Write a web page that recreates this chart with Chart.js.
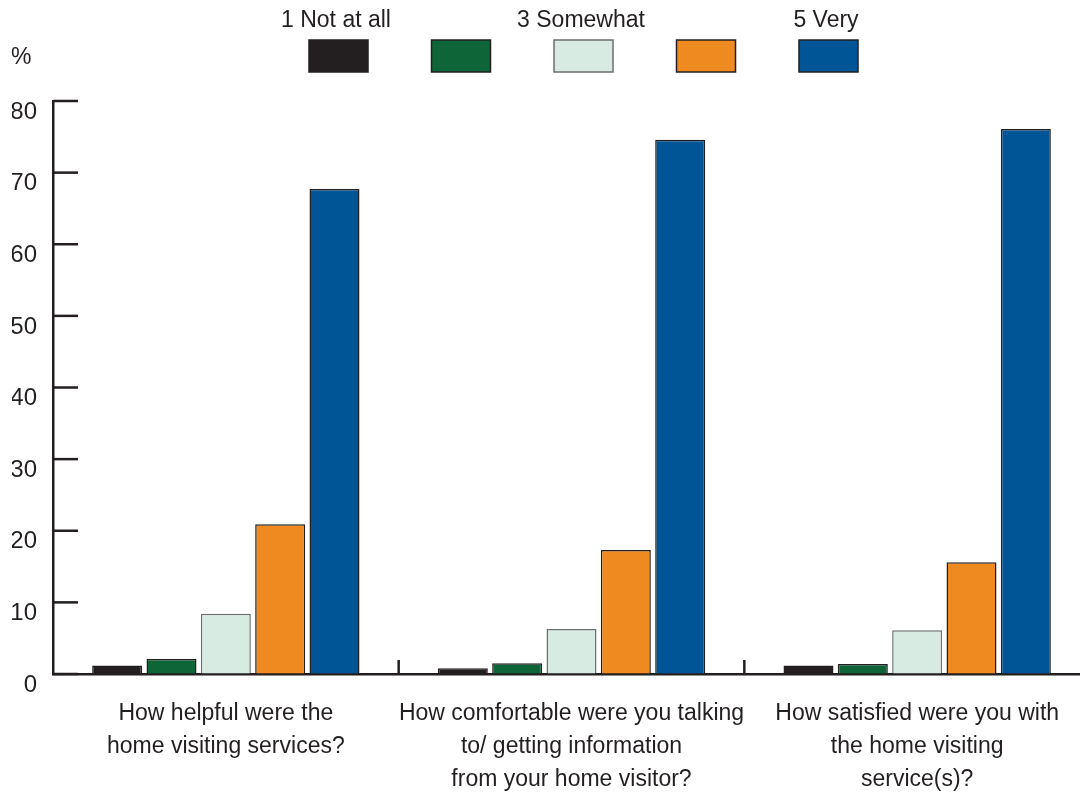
<!DOCTYPE html>
<html>
<head>
<meta charset="utf-8">
<script src="https://cdn.jsdelivr.net/npm/chart.js@4.4.1/dist/chart.umd.min.js"></script>
<style>
  html, body { margin: 0; padding: 0; background: #fff; overflow: hidden; }
  #wrap { width: 1090px; height: 795px; }
</style>
</head>
<body>
<div id="wrap"><canvas id="chart"></canvas></div>
<script>
const questions = [
    ['How helpful were the', 'home visiting services?'],
    ['How comfortable were you talking', 'to/ getting information', 'from your home visitor?'],
    ['How satisfied were you with', 'the home visiting', 'service(s)?']
];
const ratingLabels = ['1 Not at all', '2', '3 Somewhat', '4', '5 Very'];
const legendText = ['1 Not at all', '', '3 Somewhat', '', '5 Very'];
const rating1 = [1.2, 0.8, 1.2];
const rating2 = [2.1, 1.5, 1.4];
const rating3 = [8.4, 6.3, 6.1];
const rating4 = [20.9, 17.3, 15.6];
const rating5 = [67.7, 74.6, 76.1];
const yTicks = [0, 10, 20, 30, 40, 50, 60, 70, 80];

const fills = ['#231f20', '#0e6638', '#d7ebe2', '#ee8a1f', '#005596'];
const edges = ['#231f20', '#231f20', '#6d6e71', '#231f20', '#231f20'];
const ink = '#231f20';
const FONT = "'Liberation Sans Narrow', 'Arial Narrow', 'Liberation Sans', sans-serif";

const series = [rating1, rating2, rating3, rating4, rating5];

// legend with boxes in a row and text above every other one, plus the % unit
const topLegend = {
    id: 'topLegend',
    afterDraw(chart) {
        const ctx = chart.ctx;
        ctx.save();
        ctx.font = '23px ' + FONT;
        ctx.fillStyle = ink;
        ctx.textAlign = 'center';
        ctx.textBaseline = 'middle';
        chart.data.datasets.forEach((ds, i) => {
            const x = 309 + i * 122.5;
            ctx.fillStyle = ds.backgroundColor;
            ctx.fillRect(x, 40, 59, 32);
            ctx.strokeStyle = ds.borderColor;
            ctx.lineWidth = 1.5;
            ctx.strokeRect(x, 40, 59, 32);
            ctx.fillStyle = ink;
            if (legendText[i]) ctx.fillText(legendText[i], x + 27, 21);
        });
        ctx.textAlign = 'left';
        ctx.fillText('%', 11, 58);
        ctx.restore();
    }
};

// tick marks drawn inside the plot, and short separators between questions
const innerTicks = {
    id: 'innerTicks',
    afterDatasetsDraw(chart) {
        const {ctx, chartArea, scales} = chart;
        ctx.save();
        ctx.strokeStyle = ink;
        ctx.lineWidth = 2.5;
        scales.y.ticks.forEach((t, i) => {
            const y = scales.y.getPixelForTick(i);
            ctx.beginPath();
            ctx.moveTo(chartArea.left, y);
            ctx.lineTo(chartArea.left + 25, y);
            ctx.stroke();
        });
        const n = chart.data.labels.length;
        for (let i = 1; i < n; i++) {
            const x = (scales.x.getPixelForTick(i - 1) + scales.x.getPixelForTick(i)) / 2;
            ctx.beginPath();
            ctx.moveTo(x, chartArea.bottom);
            ctx.lineTo(x, chartArea.bottom - 14);
            ctx.stroke();
        }
        ctx.restore();
    }
};

new Chart(document.getElementById('chart'), {
    type: 'bar',
    data: {
        labels: questions,
        datasets: series.map((vals, i) => ({
            label: ratingLabels[i],
            data: vals,
            backgroundColor: fills[i],
            borderColor: edges[i],
            borderWidth: 1.5,
            categoryPercentage: 0.786,
            barPercentage: 0.92
        }))
    },
    options: {
        responsive: true,
        maintainAspectRatio: false,
        animation: false,
        layout: {padding: {top: 101, left: 12, right: 0, bottom: 0}},
        plugins: {
            legend: {display: false},
            tooltip: {enabled: false}
        },
        scales: {
            x: {
                afterFit: (scale) => { scale.height = 121; },
                grid: {display: true, drawOnChartArea: false, drawTicks: false},
                border: {display: true, color: ink, width: 2.5},
                ticks: {
                    color: ink,
                    padding: 23,
                    maxRotation: 0,
                    autoSkip: false,
                    font: {family: FONT, size: 23, lineHeight: 1.43}
                }
            },
            y: {
                min: 0,
                max: 80,
                afterBuildTicks: (scale) => { scale.ticks = yTicks.map(v => ({value: v})); },
                afterFit: (scale) => { scale.width = 41; },
                grid: {display: true, drawOnChartArea: false, drawTicks: false},
                border: {display: true, color: ink, width: 2.5},
                ticks: {
                    color: ink,
                    padding: 16,
                    labelOffset: 11,
                    font: {family: FONT, size: 24}
                }
            }
        }
    },
    plugins: [topLegend, innerTicks]
});
</script>
</body>
</html>
